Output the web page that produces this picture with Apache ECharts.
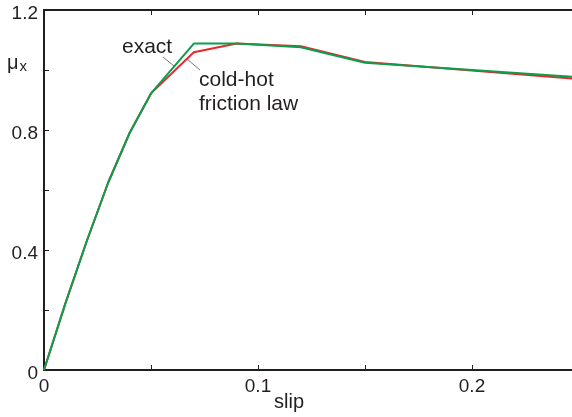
<!DOCTYPE html>
<html><head><meta charset="utf-8">
<script src="https://cdn.jsdelivr.net/npm/echarts@6/dist/echarts.min.js"></script>
<style>html,body{margin:0;padding:0;background:#fff}#c{width:572px;height:417px}</style>
</head><body><div id="c"></div>
<script>
const slip = [0, 0.01, 0.02, 0.03, 0.04, 0.05, 0.07, 0.09, 0.12, 0.15, 0.25];
const exact = [0, 0.222, 0.43, 0.625, 0.79, 0.922, 1.088, 1.088, 1.076, 1.024, 0.976];
const coldHot = [0, 0.222, 0.43, 0.625, 0.79, 0.922, 1.059, 1.088, 1.079, 1.027, 0.970];
const yTickLabels = ['0', '0.4', '0.8', '1.2'];
const xTickLabels = ['0', '0.1', '0.2'];

const axisCol = '#231f20';
const font = 'Liberation Sans, Arial, Helvetica, sans-serif';
const chart = echarts.init(document.getElementById('c'), null, {renderer: 'canvas'});
const pair = (xs, ys) => xs.map((x, i) => [x, ys[i]]);
chart.setOption({
  animation: false,
  grid: {left: 44, top: 10, width: 535, height: 360, containLabel: false, outerBoundsMode: 'none'},
  xAxis: [{
    type: 'value', min: 0, max: 0.25, interval: 0.05, position: 'bottom',
    axisLine: {show: true, onZero: false, lineStyle: {color: axisCol, width: 2}},
    axisTick: {show: true, inside: true, length: 5, lineStyle: {color: axisCol, width: 1}},
    splitLine: {show: false},
    axisLabel: {color: axisCol, fontFamily: font, fontSize: 19, margin: 7,
      formatter: v => { const s = String(Math.round(v * 100) / 100); return xTickLabels.includes(s) ? s : ''; }}
  }, {
    type: 'value', min: 0, max: 0.25, interval: 0.05, position: 'top',
    axisLine: {show: true, onZero: false, lineStyle: {color: axisCol, width: 2}},
    axisTick: {show: true, inside: true, length: 5, lineStyle: {color: axisCol, width: 1}},
    splitLine: {show: false}, axisLabel: {show: false}
  }],
  yAxis: [{
    type: 'value', min: 0, max: 1.2, interval: 0.2,
    axisLine: {show: true, onZero: false, lineStyle: {color: axisCol, width: 2}},
    axisTick: {show: true, inside: true, length: 5, lineStyle: {color: axisCol, width: 1}},
    splitLine: {show: false},
    axisLabel: {color: axisCol, fontFamily: font, fontSize: 19, margin: 6, verticalAlign: 'top', lineHeight: 19,
      padding: [-6, 0, 0, 0],
      formatter: v => { const s = String(Math.round(v * 10) / 10); return yTickLabels.includes(s) ? s : ''; }}
  }],
  series: [
    {type: 'line', name: 'cold-hot friction law', data: pair(slip, coldHot), showSymbol: false,
     lineStyle: {color: '#e8262b', width: 2}, z: 2},
    {type: 'line', name: 'exact', data: pair(slip, exact), showSymbol: false,
     lineStyle: {color: '#0b9e4c', width: 2}, z: 3},
    {type: 'line', name: 'topref', xAxisIndex: 1, data: [], showSymbol: false, silent: true}
  ],
  graphic: [
    {type: 'line', z: 100, shape: {x1: 43, y1: 10, x2: 572, y2: 10}, style: {stroke: axisCol, lineWidth: 2}},
    {type: 'text', left: 7, top: 53, style: {
      text: '{m|μ}{s|x}', fill: axisCol,
      rich: {m: {fontFamily: font, fontSize: 20, fill: axisCol}, s: {fontFamily: font, fontSize: 15, fill: axisCol, padding: [8, 0, 0, 1]}}}},
    {type: 'text', left: 274, top: 392, style: {text: 'slip', fill: axisCol, font: '20px ' + font}},
    {type: 'text', left: 122, top: 37, style: {text: 'exact', fill: axisCol, font: '21px ' + font}},
    {type: 'text', left: 199, top: 68, style: {text: 'cold-hot\nfriction law', fill: axisCol, font: '21px ' + font, lineHeight: 24}},
    {type: 'line', shape: {x1: 163, y1: 57, x2: 174, y2: 66}, style: {stroke: '#555', lineWidth: 0.8}},
    {type: 'line', shape: {x1: 187, y1: 59, x2: 200, y2: 70}, style: {stroke: '#555', lineWidth: 0.8}}
  ]
});
</script></body></html>
